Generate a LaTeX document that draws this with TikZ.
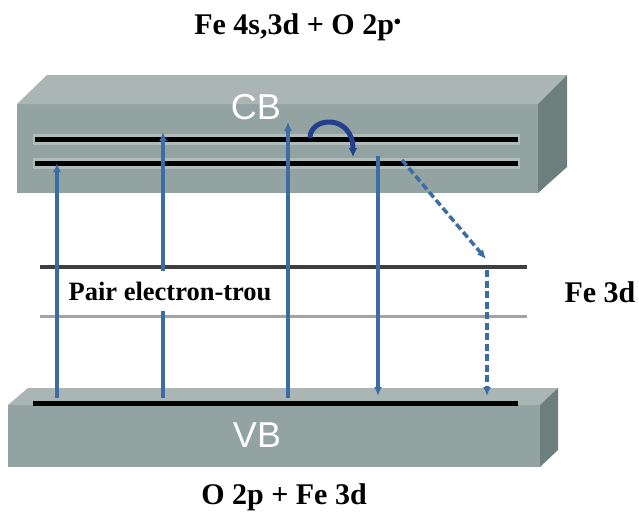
\documentclass[tikz,border=0pt]{standalone}
\usepackage{fontspec}
\setmainfont{Liberation Serif}
\setsansfont{Liberation Sans}
\usetikzlibrary{arrows.meta}
\definecolor{bandFront}{HTML}{93A3A1}
\definecolor{bandTop}{HTML}{A9B6B4}
\definecolor{bandSide}{HTML}{6D7F7D}
\definecolor{bandGlow}{HTML}{AFBCBA}
\definecolor{arrowBlue}{HTML}{3C6CA6}
\definecolor{arrowNavy}{HTML}{22408C}
\definecolor{levelDark}{HTML}{3F3F3F}
\definecolor{levelGrey}{HTML}{A3A3A3}
\tikzset{
  frontface/.style={fill=bandFront, draw=none},
  topface/.style={fill=bandTop, draw=none},
  sideface/.style={fill=bandSide, draw=none},
  glowline/.style={line width=11pt, draw=bandGlow},
  bandline/.style={line width=5pt, draw=black},
  transarrow/.style={-{Latex[length=9pt,width=8pt]}, line width=3.5pt, draw=arrowBlue},
  dasharrow/.style={transarrow, dash pattern=on 7pt off 3.5pt},
  hoparrow/.style={-{Latex[length=9pt,width=9pt]}, line width=5pt, draw=arrowNavy},
  orblabel/.style={font=\bfseries\fontsize{30}{36}\selectfont, inner sep=1pt},
  bandlabel/.style={font=\sffamily\fontsize{36}{40}\selectfont, text=white, inner sep=1pt},
}

\begin{document}
\begin{tikzpicture}[x=1pt,y=-1pt]
  \useasboundingbox (0,0) rectangle (639,515);

  % --- conduction band ---
  \fill[frontface] (17,104) rectangle (538,193);
  \fill[topface] (17,104) -- (47,75) -- (567,75) -- (538,104) -- cycle;
  \fill[sideface] (538,104) -- (567,75) -- (567,167) -- (538,193) -- cycle;
  \draw[glowline] (33,139) -- (520,139);
  \draw[glowline] (33,163) -- (520,163);
  \draw[bandline] (35,139) -- (518,139);
  \draw[bandline] (35,163) -- (518,163);
  \node[bandlabel] (cb) at (256,107) {CB};

  % --- valence band ---
  \fill[frontface] (8,405) rectangle (540,467);
  \fill[topface] (8,405) -- (28,388) -- (558,388) -- (540,405) -- cycle;
  \fill[sideface] (540,405) -- (558,388) -- (558,450) -- (540,467) -- cycle;
  \draw[bandline] (33,403) -- (518,403);
  \node[bandlabel] (vb) at (257,435) {VB};

  % --- Fe 3d levels ---
  \draw[line width=4pt, draw=levelDark] (40,267) -- (527,267);
  \draw[line width=3pt, draw=levelGrey] (40,316) -- (527,316);

  % --- transitions ---
  \foreach \n/\xpos/\ytop in {1/57/163, 2/163/132, 3/288/122} {
    \coordinate (vb\n) at (\xpos,398);
    \coordinate (cb\n) at (\xpos,\ytop);
    \draw[transarrow] (vb\n) -- (cb\n);
  }
  \coordinate (hopA) at (310,138);
  \coordinate (hopB) at (353,157);
  \draw[hoparrow] (hopA) .. controls (310,116) and (353,114) .. (hopB);
  \coordinate (cb4) at (378,156);
  \coordinate (vb4) at (378,396);
  \draw[transarrow] (cb4) -- (vb4);
  \coordinate (cb5) at (402,160);
  \coordinate (fe5) at (486,259);
  \coordinate (fe6) at (487,270);
  \coordinate (vb6) at (487,396);
  \draw[dasharrow] (cb5) -- (fe5);
  \draw[dasharrow] (fe6) -- (vb6);

  % --- labels ---
  \node[font=\bfseries\fontsize{26.5}{30}\selectfont, fill=white, inner xsep=4pt, minimum height=40pt] (pair) at (170,291) {Pair electron-trou};
  \node[orblabel] (cbtitle) at (298,27) {Fe 4s,3d + O 2p$^{\scriptscriptstyle\bullet}$};
  \node[orblabel] (fe3d) at (600,292) {Fe 3d};
  \node[orblabel] (vbtitle) at (284,497) {O 2p + Fe 3d};
\end{tikzpicture}
\end{document}
